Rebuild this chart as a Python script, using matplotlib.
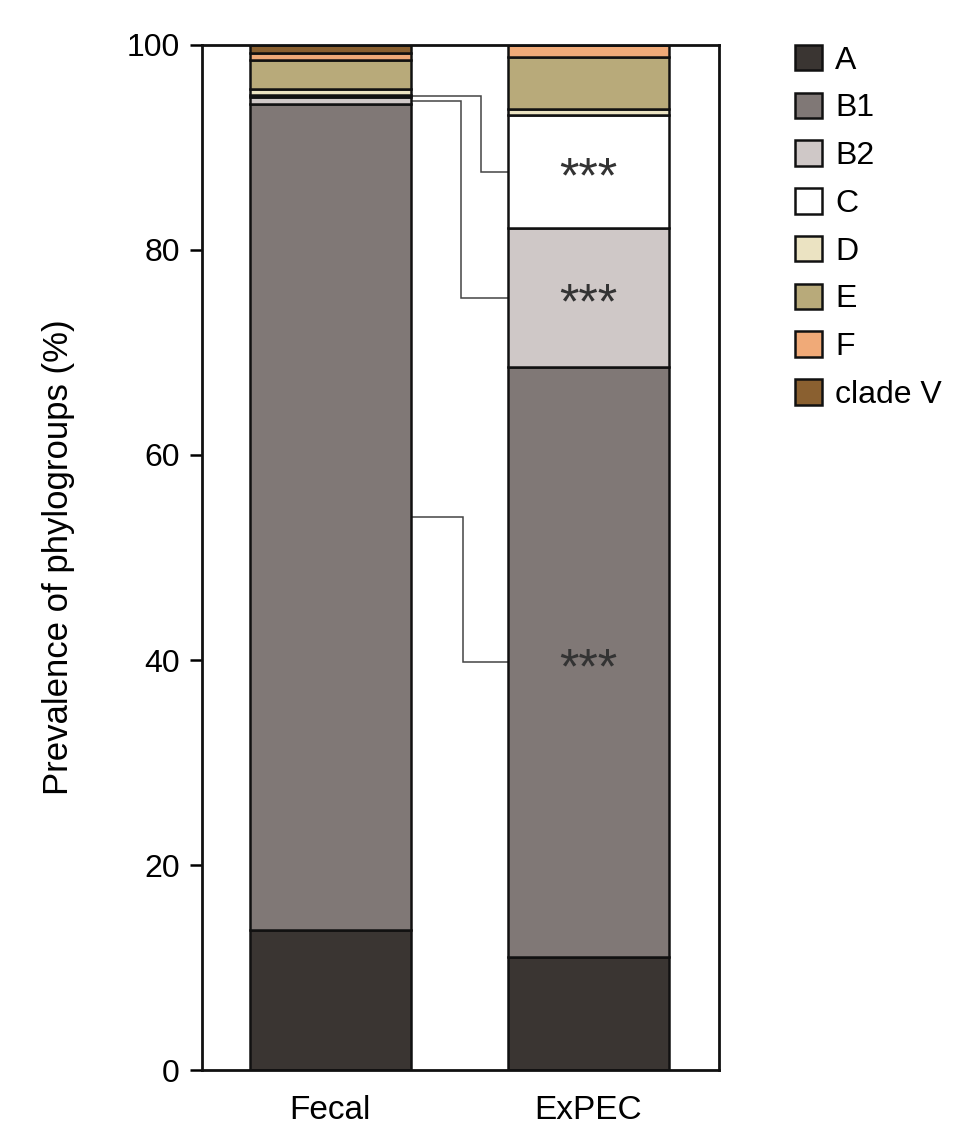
import matplotlib.pyplot as plt
from matplotlib.patches import Patch

plt.rcParams['font.family'] = ['Liberation Sans', 'DejaVu Sans']

# Phylogroup prevalence (%) per source, stacked bottom to top
sources = ['Fecal', 'ExPEC']
groups = ['A', 'B1', 'B2', 'C', 'D', 'E', 'F', 'clade V']
fecal = [13.7, 80.5, 0.7, 0.2, 0.6, 2.8, 0.7, 0.8]
expec = [11.0, 57.6, 13.5, 11.1, 0.55, 5.05, 1.2, 0.0]
colors = ['#3a3532', '#807876', '#cfc8c7', '#ffffff',
          '#ebe3c2', '#b8aa7a', '#f0aa78', '#8a6030']

# groups that differ significantly between the two sources
signif = ['B1', 'B2', 'C']
stars = '***'

fig = plt.figure(figsize=(9.76, 11.24), dpi=100)
ax = fig.add_axes([0.207, 0.048, 0.530, 0.912])

width = 0.624
values = [fecal, expec]
mids = {}
for i, vals in enumerate(values):
    bottom = 0
    for g, v, c in zip(groups, vals, colors):
        ax.bar(i, v, width, bottom=bottom, color=c, edgecolor='#111111',
               linewidth=1.8, zorder=2)
        mids[(i, g)] = bottom + v / 2
        bottom += v

# connector lines from Fecal segment to matching ExPEC segment
elbow_x = {'B1': 0.516, 'B2': 0.508, 'C': 0.585}
x0, x1 = width / 2, 1 - width / 2
for g in signif:
    y0, y1 = mids[(0, g)], mids[(1, g)]
    xe = elbow_x[g]
    ax.plot([x0, xe, xe, x1], [y0, y0, y1, y1], color='#444444',
            linewidth=1.1, zorder=1, solid_joinstyle='miter')
    # asterisks sit high in the font, so shift the baseline down
    ax.annotate(stars, (1, y1), xytext=(0, -15), textcoords='offset points',
                ha='center', va='baseline', fontsize=36, color='#333333',
                zorder=3)

ax.set_xlim(-0.496, 1.508)
ax.set_ylim(0, 100)
ax.set_yticks([0, 20, 40, 60, 80, 100])
ax.set_xticks([0, 1])
ax.set_xticklabels(sources, fontsize=24)
ax.tick_params(axis='x', length=0, pad=18)
ax.tick_params(axis='y', length=9, width=1.8, labelsize=23, pad=7)
ax.set_ylabel('Prevalence of phylogroups (%)', fontsize=25)
ax.yaxis.set_label_coords(-0.246, 0.5)
for s in ax.spines.values():
    s.set_linewidth(2.0)
    s.set_color('#111111')

handles = [Patch(facecolor=c, edgecolor='#111111', linewidth=1.8, label=g)
           for g, c in zip(groups, colors)]
fig.legend(handles=handles, loc='upper left', bbox_to_anchor=(0.8145, 0.960),
           frameon=False, fontsize=23, handlelength=0.85, handleheight=0.85,
           handletextpad=0.4, labelspacing=0.53, borderaxespad=0, borderpad=0)

fig.savefig('out.png', dpi=100)
